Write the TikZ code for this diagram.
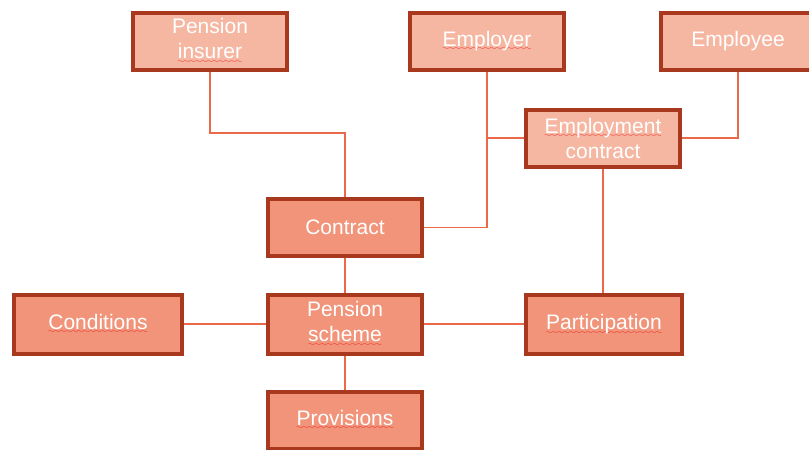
\documentclass[tikz,border=0pt]{standalone}
\usepackage{fontspec}
\setmainfont{Liberation Sans}
\definecolor{lightfill}{RGB}{246,183,162}
\definecolor{darkfill}{RGB}{241,148,122}
\definecolor{boxborder}{RGB}{168,56,30}
\definecolor{linkcol}{RGB}{235,105,72}
\definecolor{sqred}{RGB}{235,25,25}
\font\wavefont=lasy8
\newcommand\sq[1]{\setbox0\hbox{#1}\rlap{\lower4.5pt\hbox to\wd0{\color{sqred}\xleaders\hbox{\wavefont\char58}\hfil}}\box0}
\tikzset{
  basebox/.style={draw=boxborder, line width=4pt, minimum width=154pt, minimum height=57pt,
    text=white, align=center, inner sep=0pt,
    font=\fontsize{21pt}{25pt}\selectfont},
  lightbox/.style={basebox, fill=lightfill},
  darkbox/.style={basebox, fill=darkfill},
  link/.style={draw=linkcol, line width=1.8pt}
}
\begin{document}
\begin{tikzpicture}[x=1pt,y=-1pt]
\useasboundingbox (0,0) rectangle (809,450);
\node[lightbox] (pi) at (210,41) {Pension\\\sq{insurer}};
\node[lightbox] (er) at (487,41) {\sq{Employer}};
\node[lightbox] (ee) at (738,41) {Employee};
\node[lightbox] (ec) at (603,138) {\sq{Employment}\\contract};
\node[darkbox] (ct) at (345,227.5) {Contract};
\node[darkbox, minimum width=168pt, minimum height=59pt] (cd) at (98,324) {\sq{Conditions}};
\node[darkbox, minimum height=59pt] (ps) at (345,324) {Pension\\\sq{scheme}};
\node[darkbox, minimum width=156pt, minimum height=59pt] (pa) at (604,324.5) {\sq{Participation}};
\node[darkbox] (pv) at (345,420) {\sq{Provisions}};
\coordinate (j1) at (210,133);
\draw[link] (pi.south) -- (j1) -| (ct.north);
\draw[link] (er.south) |- (ct.east);
\draw[link] (ee.south) |- (ec.east);
\draw[link] (ec.west) -- (ec.west -| er.south);
\draw[link] (ec.south) -- (ec.south |- pa.north);
\draw[link] (ct.south) -- (ps.north);
\draw[link] (cd.east) -- (ps.west);
\draw[link] (ps.east) -- (ps.east -| pa.west);
\draw[link] (ps.south) -- (pv.north);
\end{tikzpicture}
\end{document}
